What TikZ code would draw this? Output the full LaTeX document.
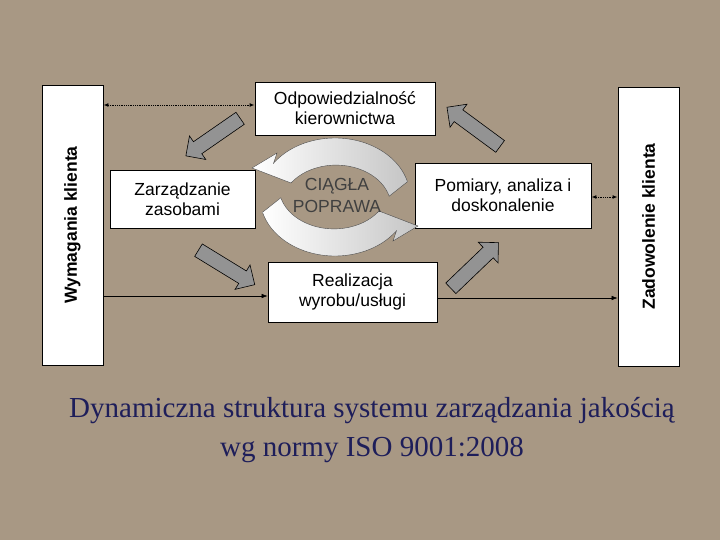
\documentclass[tikz,border=0pt]{standalone}
\usepackage{fontspec}
\setmainfont{Liberation Sans}
\newfontfamily\titlefont{Liberation Serif}
\usetikzlibrary{shapes.arrows,arrows.meta}
\definecolor{bg}{RGB}{168,152,132}
\definecolor{navy}{RGB}{30,30,90}
\tikzset{
  box/.style={draw=black, fill=white, line width=0.8pt, align=center, font=\fontsize{17.5}{20}\selectfont},
  fat/.style={single arrow, draw=black, fill=gray!85!white, line width=0.6pt, inner sep=7pt, single arrow head extend=7pt, minimum height=66pt, anchor=center},
  dots/.style={densely dotted, line width=0.8pt, {Latex[length=5pt]}-{Latex[length=5pt]}},
  thin/.style={line width=0.6pt, -{Latex[length=6pt]}},
  circ/.style={draw=black!70, line width=0.4pt, left color=white, right color=gray!45}
}
\begin{document}
\begin{tikzpicture}[x=1pt,y=-1pt]
\fill[bg] (0,0) rectangle (720,540);
\useasboundingbox (0,0) rectangle (720,540);
% side boxes
\node[box, minimum width=61pt, minimum height=280pt, inner sep=0pt] (wym) at (72.5,225) {};
\node[rotate=90, font=\bfseries\fontsize{17.5}{20}\selectfont] (wymt) at (wym.center) {Wymagania klienta};
\node[box, minimum width=61pt, minimum height=279pt, inner sep=0pt] (zad) at (648.5,226.5) {};
\node[rotate=90, font=\bfseries\fontsize{17.5}{20}\selectfont] (zadt) at (zad.center) {Zadowolenie klienta};
% inner boxes
\node[box, minimum width=180pt, minimum height=53pt] (odp) at (345,108.5) {Odpowiedzialność\\kierownictwa};
\node[box, minimum width=145pt, minimum height=58pt] (zar) at (182.5,199) {Zarządzanie\\zasobami};
\node[box, minimum width=176pt, minimum height=65pt] (pom) at (503,195.5) {Pomiary, analiza i\\doskonalenie};
\node[box, minimum width=169pt, minimum height=60pt] (rea) at (352.5,292) {Realizacja\\wyrobu/usługi};
% connectors
\draw[dots] (wym.east |- 0,105) -- (odp.west |- 0,105);
\draw[dots] (pom.east |- 0,197) -- (zad.west |- 0,197);
\draw[thin] (wym.east |- 0,296) -- (rea.west |- 0,296);
\draw[thin] (rea.east |- 0,298) -- (zad.west |- 0,298);
% fat arrows
\node[fat, rotate=214.7] (f1) at (216,135) {};
\node[fat, rotate=-31.5] (f2) at (223.5,265.5) {};
\node[fat, rotate=43.8] (f3) at (472,268) {};
\node[fat, rotate=143.6] (f4) at (476.5,129) {};
% circular arrows
\foreach \r in {0,180}{
\begin{scope}[shift={(335,197)}, rotate=\r]
\path[circ] (-15:75 and 59) arc[start angle=-15, end angle=-145, x radius=75, y radius=59]
  -- (-58,-44) -- (-83,-29) -- (-44,-14)
  arc[start angle=-145, end angle=-15, x radius=55, y radius=42] -- cycle;
\end{scope}}
\node[font=\fontsize{17.5}{22}\selectfont, text=black!75, align=center] (cp) at (337,195) {CIĄGŁA\\POPRAWA};
% title
\node[font=\titlefont\fontsize{29}{39}\selectfont, text=navy, align=center] (title) at (372,430) {Dynamiczna struktura systemu zarządzania jakością\\wg normy ISO 9001:2008};
\end{tikzpicture}
\end{document}
